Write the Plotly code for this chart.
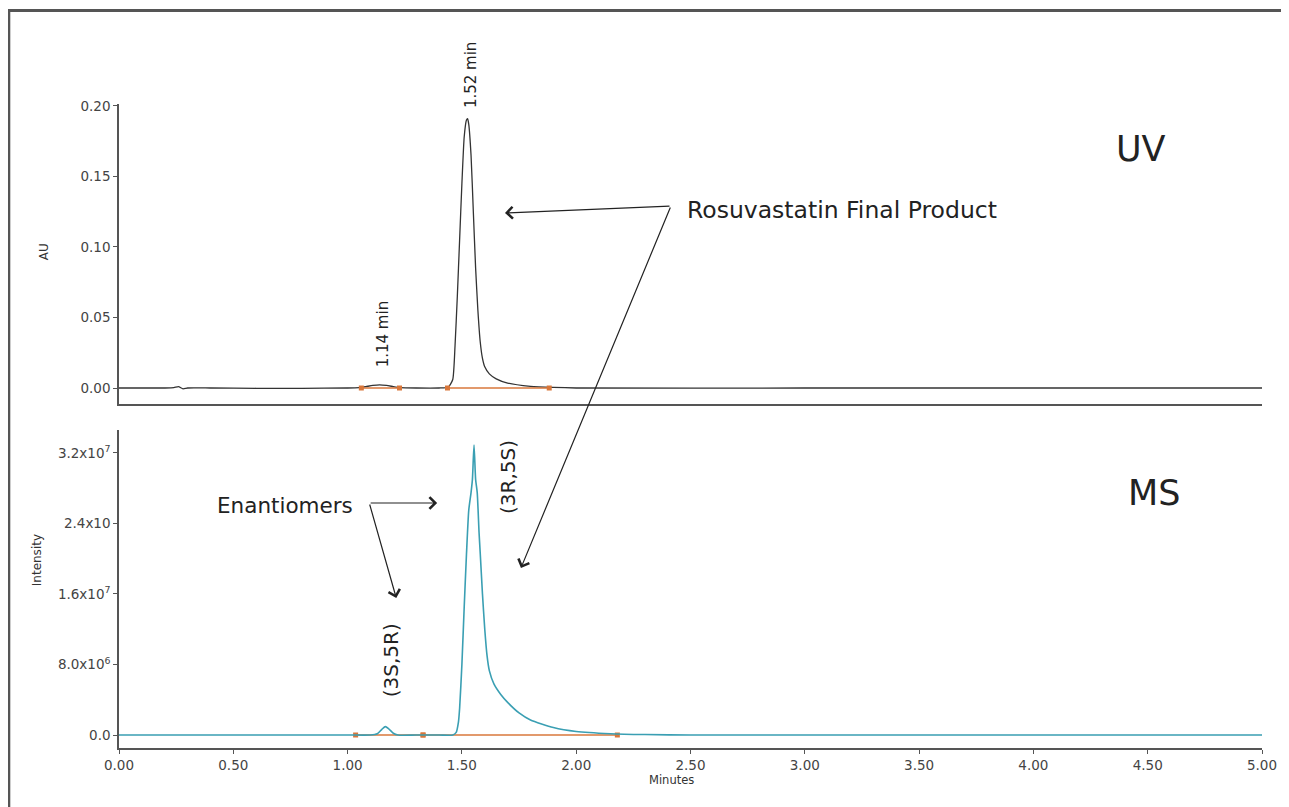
import plotly.graph_objects as go

# ---------------- data ----------------
uv_time = [0.00, 0.10, 0.20, 0.24, 0.26, 0.28, 0.30, 0.40, 0.60, 0.80, 1.00, 1.05, 1.08,
           1.11, 1.14, 1.17, 1.20, 1.23, 1.30, 1.40, 1.44, 1.46, 1.47, 1.48, 1.49, 1.50,
           1.51, 1.52, 1.525, 1.53, 1.54, 1.55, 1.56, 1.57, 1.58, 1.59, 1.60, 1.62, 1.65,
           1.70, 1.80, 1.90, 2.00, 3.00, 4.00, 5.00]
uv_au = [0, 0, 0, 0.0002, 0.0010, -0.0006, 0, 0, -0.0002, -0.0002, 0, 0.0003, 0.0010,
         0.0018, 0.0022, 0.0018, 0.0010, 0.0003, 0, 0, 0.0005, 0.006, 0.030, 0.065, 0.105, 0.145,
         0.178, 0.190, 0.191, 0.187, 0.165, 0.125, 0.085, 0.055, 0.033, 0.021, 0.015, 0.010, 0.0065,
         0.0035, 0.0012, 0.0004, 0, 0, 0, 0]

ms_time = [0.00, 0.50, 1.00, 1.10, 1.13, 1.15, 1.165, 1.18, 1.20, 1.22, 1.30, 1.40, 1.46,
           1.475, 1.485, 1.49, 1.50, 1.51, 1.52, 1.53, 1.54, 1.546, 1.553, 1.56, 1.567, 1.575,
           1.58, 1.59, 1.60, 1.61, 1.62, 1.64, 1.67, 1.70, 1.75, 1.80, 1.90, 2.00, 2.15, 2.30,
           2.50, 3.00, 4.00, 5.00]
ms_intensity = [0, 0, 0, 0, 1.5e5, 6.5e5, 9.5e5, 7e5, 2e5, 0, 0, 0, 0,
                3e5, 1.5e6, 3e6, 8e6, 1.45e7, 2.05e7, 2.55e7, 2.75e7, 2.9e7, 3.29e7, 2.9e7, 2.75e7, 2.3e7,
                2.07e7, 1.6e7, 1.2e7, 9.0e6, 7.3e6, 5.8e6, 4.6e6, 3.7e6, 2.5e6, 1.7e6, 8.5e5, 4e5, 1.5e5, 5e4,
                0, 0, 0, 0]

uv_int_small = [1.06, 1.227]
uv_int_main = [1.437, 1.882]
ms_int_small = [1.035, 1.33]
ms_int_main = [1.33, 2.18]

x_ticks = [0.0, 0.5, 1.0, 1.5, 2.0, 2.5, 3.0, 3.5, 4.0, 4.5, 5.0]
x_ticktext = ["0.00", "0.50", "1.00", "1.50", "2.00", "2.50", "3.00", "3.50", "4.00", "4.50", "5.00"]
uv_ticks = [0.0, 0.05, 0.10, 0.15, 0.20]
uv_ticktext = ["0.00", "0.05", "0.10", "0.15", "0.20"]
ms_ticks = [0, 8e6, 1.6e7, 2.4e7, 3.2e7]
ms_ticktext = ["0.0", "8.0x10<sup>6</sup>", "1.6x10<sup>7</sup>", "2.4x10", "3.2x10<sup>7</sup>"]

# ---------------- layout geometry ----------------
# the page body has an 8px margin, so the figure starts at page pixel (8, 8)
W, H = 1281, 799
L, R, T, B = 111, 24, 96, 59
PLOT_X0 = 8 + L            # page pixel of plot left edge
PLOT_Y1 = 8 + H - B        # page pixel of plot bottom edge
PW = W - L - R
PH = H - T - B


def pxx(p):
    return (p - PLOT_X0) / PW


def pxy(p):
    return (PLOT_Y1 - p) / PH


FONT = "DejaVu Sans"
ORANGE = "#d9773b"
TEAL = "#3a9fb3"

fig = go.Figure()

# UV trace (gray)
fig.add_trace(go.Scatter(x=uv_time, y=uv_au, mode="lines", xaxis="x", yaxis="y",
                         line=dict(color="#333333", width=1.3, shape="spline", smoothing=0.5),
                         hoverinfo="skip"))
# UV integration baselines (on top)
for seg in (uv_int_small, uv_int_main):
    fig.add_trace(go.Scatter(x=seg, y=[0, 0], mode="lines+markers", xaxis="x", yaxis="y",
                             line=dict(color=ORANGE, width=1.5),
                             marker=dict(color=ORANGE, size=5, symbol="square"),
                             hoverinfo="skip"))
# MS integration baselines (below)
for seg in (ms_int_small, ms_int_main):
    fig.add_trace(go.Scatter(x=seg, y=[0, 0], mode="lines+markers", xaxis="x2", yaxis="y2",
                             line=dict(color=ORANGE, width=1.5),
                             marker=dict(color=ORANGE, size=5, symbol="square"),
                             hoverinfo="skip"))
# MS trace (teal)
fig.add_trace(go.Scatter(x=ms_time, y=ms_intensity, mode="lines", xaxis="x2", yaxis="y2",
                         line=dict(color=TEAL, width=1.6, shape="spline", smoothing=0.6),
                         hoverinfo="skip"))

axis_common = dict(showgrid=False, zeroline=False, showline=True, linecolor="#555555",
                   linewidth=1.5, ticks="outside", ticklen=4, tickwidth=1.2, tickcolor="#555555",
                   tickfont=dict(family=FONT, size=13.5, color="#444444"))

uv_bottom = pxy(404)
ms_top = pxy(430)

fig.update_layout(
    width=W, height=H,
    margin=dict(l=L, r=R, t=T, b=B),
    paper_bgcolor="white", plot_bgcolor="white",
    showlegend=False,
    xaxis=dict(domain=[0, 1], range=[0, 5], anchor="y", showgrid=False, zeroline=False,
               showline=True, linecolor="#555555", linewidth=1.5, ticks="",
               showticklabels=False),
    yaxis=dict(domain=[uv_bottom, 1], range=[-0.01135, 0.2014], anchor="x",
               tickvals=uv_ticks, ticktext=uv_ticktext, **axis_common),
    xaxis2=dict(domain=[0, 1], range=[0, 5], anchor="y2",
                tickvals=x_ticks, ticktext=x_ticktext, **axis_common),
    yaxis2=dict(domain=[0, ms_top], range=[-1.475e6, 3.46e7], anchor="x2",
                tickvals=ms_ticks, ticktext=ms_ticktext, **axis_common),
)

ann = []


def text(px_, py_, s, size, angle=0, color="#222222"):
    ann.append(dict(x=pxx(px_), y=pxy(py_), xref="paper", yref="paper", text=s,
                    showarrow=False, textangle=angle, xanchor="center", yanchor="middle",
                    font=dict(family=FONT, size=size, color=color)))


def arrow(tail, head):
    ann.append(dict(x=pxx(head[0]), y=pxy(head[1]), xref="paper", yref="paper", text="",
                    showarrow=True, arrowhead=4, arrowsize=1.9, arrowwidth=1.2,
                    arrowcolor="#222222", ax=tail[0] - head[0], ay=tail[1] - head[1]))


text(44, 252, "AU", 12, -90, "#333333")
text(37, 560, "Intensity", 12, -90, "#333333")
text(673, 780, "Minutes", 11.5, 0, "#333333")
text(1144, 149, "UV", 35)
text(1157, 493, "MS", 35)
text(844, 210, "Rosuvastatin Final Product", 23.5)
text(285, 505, "Enantiomers", 21.5)
text(472, 75, "1.52 min", 15, -90)
text(384, 334, "1.14 min", 15, -90)
text(509, 477, "(3R,5S)", 20, -90)
text(392, 660, "(3S,5R)", 20, -90)

arrow((672, 206), (506, 213))
arrow((672, 206), (522, 568))
arrow((370, 503), (438, 503))
arrow((370, 503), (397, 598))

fig.update_layout(annotations=ann)

# outer frame
fig.add_shape(type="rect", xref="paper", yref="paper",
              x0=pxx(8.5), x1=pxx(1300), y0=pxy(820), y1=pxy(10.5),
              line=dict(color="#555555", width=3), fillcolor="rgba(0,0,0,0)", layer="above")

fig.write_html("out.html")
